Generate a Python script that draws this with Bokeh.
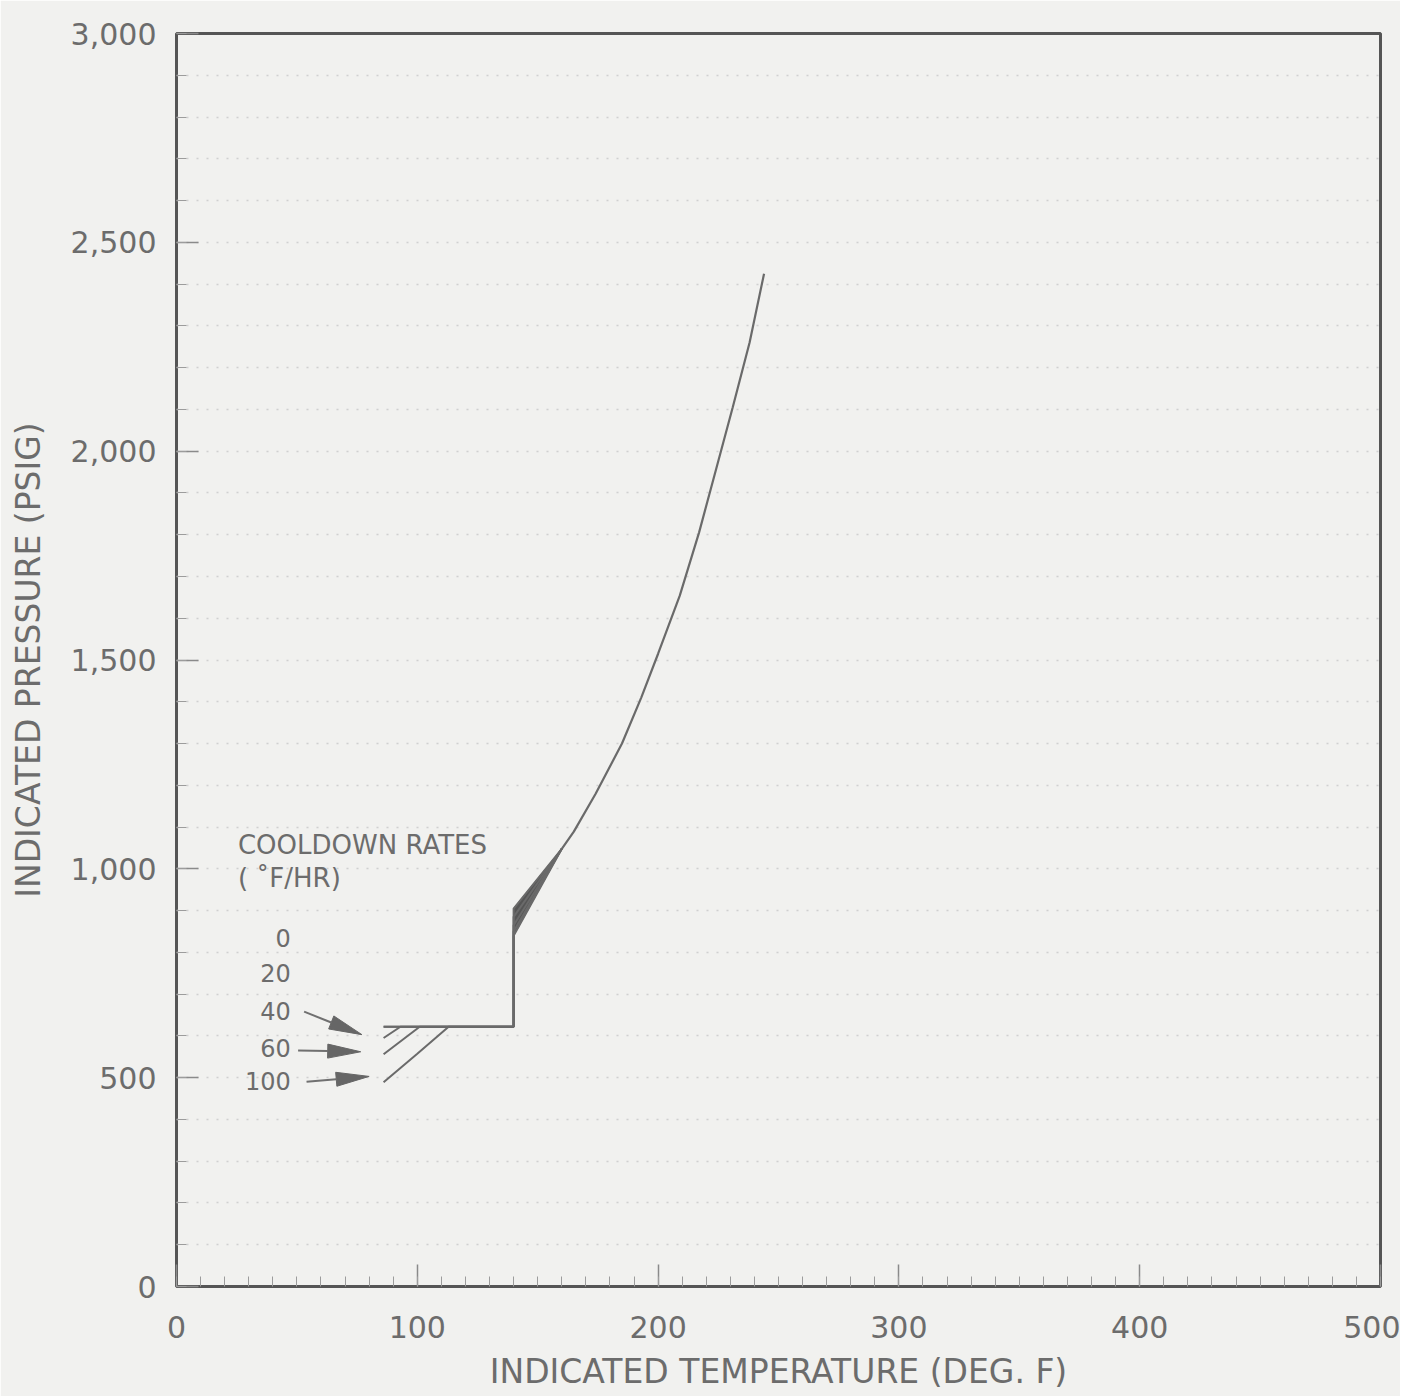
from bokeh.plotting import figure
from bokeh.embed import file_html
from bokeh.resources import INLINE
from bokeh.models import (Range1d, SingleIntervalTicker, NumeralTickFormatter, Label)
import math

# ---------------- data ----------------
x_ticks = [0, 100, 200, 300, 400, 500]
y_ticks = [0, 500, 1000, 1500, 2000, 2500, 3000]

rates = ["0", "20", "40", "60", "100"]
# low-temperature branch of each cooldown-rate curve (deg F, psig)
rate_temp = {
    "0":   [86, 140, 140, 160],
    "20":  [86, 140, 140, 160],
    "40":  [86, 93, 140, 140, 160],
    "60":  [86, 101, 140, 140, 160],
    "100": [86, 100, 113, 140, 140, 160],
}
rate_pres = {
    "0":   [622, 622, 905, 1048],
    "20":  [622, 622, 885, 1048],
    "40":  [595, 622, 622, 865, 1048],
    "60":  [556, 622, 622, 850, 1048],
    "100": [489, 557, 622, 622, 840, 1048],
}
# common upper curve (all rates coincide)
common_temp = [160, 165, 174, 185, 193, 200, 209, 217, 224, 231, 238, 244]
common_pres = [1048, 1089, 1179, 1300, 1410, 1515, 1654, 1805, 1955, 2105, 2260, 2425]

# ---------------- style ----------------
BG = "#f1f1ef"
INK = "#6c6c6c"
FONT = "DejaVu Sans"

W, H = 1400, 1396
BL, BR, BT, BB = 176, 20, 33, 110

p = figure(width=W, height=H, output_backend="svg", toolbar_location=None,
           x_range=Range1d(0, 500), y_range=Range1d(0, 3000),
           min_border_left=BL, min_border_right=BR, min_border_top=BT,
           min_border_bottom=BB)
p.background_fill_color = BG
p.border_fill_color = BG
p.outline_line_color = "#555555"
p.outline_line_width = 3

# grid: faint dotted horizontal lines every 100 psig
p.xgrid.visible = False
p.ygrid.ticker = SingleIntervalTicker(interval=100)
p.ygrid.grid_line_color = "#d0d0d0"
p.ygrid.grid_line_dash = "2 8"
p.ygrid.grid_line_width = 1.5

# axes
p.yaxis.ticker = SingleIntervalTicker(interval=500, num_minor_ticks=5)
p.xaxis.ticker = SingleIntervalTicker(interval=100, num_minor_ticks=10)
p.yaxis.formatter = NumeralTickFormatter(format="0,0")
for ax in (p.xaxis, p.yaxis):
    ax.axis_line_color = None
    ax.major_tick_in = 22
    ax.major_tick_out = 0
    ax.minor_tick_in = 10
    ax.minor_tick_out = 0
    ax.major_tick_line_color = "#8a8a8a"
    ax.minor_tick_line_color = "#9c9c9c"
    ax.major_tick_line_width = 1.5
    ax.major_label_text_font = FONT
    ax.major_label_text_font_size = "30px"
    ax.major_label_text_color = INK
    ax.axis_label_text_font = FONT
    ax.axis_label_text_font_size = "33px"
    ax.axis_label_text_font_style = "normal"
    ax.axis_label_text_color = INK
p.xaxis.major_label_standoff = 29
p.yaxis.major_label_standoff = 20
p.xaxis.axis_label = "INDICATED TEMPERATURE (DEG. F)"
p.yaxis.axis_label = "INDICATED PRESSURE (PSIG)"
p.xaxis.axis_label_standoff = 11
p.yaxis.axis_label_standoff = 20

LINE = "#6a6a6a"

# dark wedge where the rate curves fan out above the vertical step
p.patch([rate_temp["0"][-2], rate_temp["0"][-1], rate_temp["100"][-2]],
        [rate_pres["0"][-2], rate_pres["0"][-1], rate_pres["100"][-2]],
        fill_color="#555555", line_color="#555555", line_width=1)

for r in rates:
    p.line(rate_temp[r], rate_pres[r], line_color=LINE, line_width=2)
p.line(common_temp, common_pres, line_color=LINE, line_width=2.2)

# annotation text
lab_kw = dict(text_font=FONT, text_color=INK)
p.add_layout(Label(x=25.5, y=1058, text="COOLDOWN RATES", text_font_size="26px",
                   text_baseline="middle", **lab_kw))
p.add_layout(Label(x=25.5, y=979, text="( \u02daF/HR)", text_font_size="26px",
                   text_baseline="middle", **lab_kw))
label_y = {"0": 835, "20": 751, "40": 660, "60": 572, "100": 491}
for r in rates:
    p.add_layout(Label(x=47.5, y=label_y[r], text=r, text_font_size="24px",
                       text_align="right", text_baseline="middle", **lab_kw))

# arrows pointing at the 40, 60, 100 curves: shaft + long narrow head
sx = (W - BL - BR) / 500.0           # px per deg F
sy = (H - BT - BB) / 3000.0          # px per psig
HEAD_L, HEAD_W = 33.0, 7.0
arrows = [((53, 658), (77, 603)), ((50.5, 565), (76.5, 562)), ((54, 490), (80, 503))]
for (xs, ys), (xe, ye) in arrows:
    dxp, dyp = (xe - xs) * sx, (ye - ys) * sy
    L = math.hypot(dxp, dyp)
    ux, uy = dxp / L, dyp / L
    bx, by = -HEAD_L * ux, -HEAD_L * uy            # base center offset (px)
    nx, ny = -uy * HEAD_W, ux * HEAD_W             # normal offset (px)
    base = (xe + bx / sx, ye + by / sy)
    p.line([xs, base[0]], [ys, base[1]], line_color="#707070", line_width=2)
    p.patch([xe, xe + (bx + nx) / sx, xe + (bx - nx) / sx],
            [ye, ye + (by + ny) / sy, ye + (by - ny) / sy],
            fill_color="#666666", line_color="#666666", line_width=1)

open("out.html", "w").write(file_html(p, INLINE))
